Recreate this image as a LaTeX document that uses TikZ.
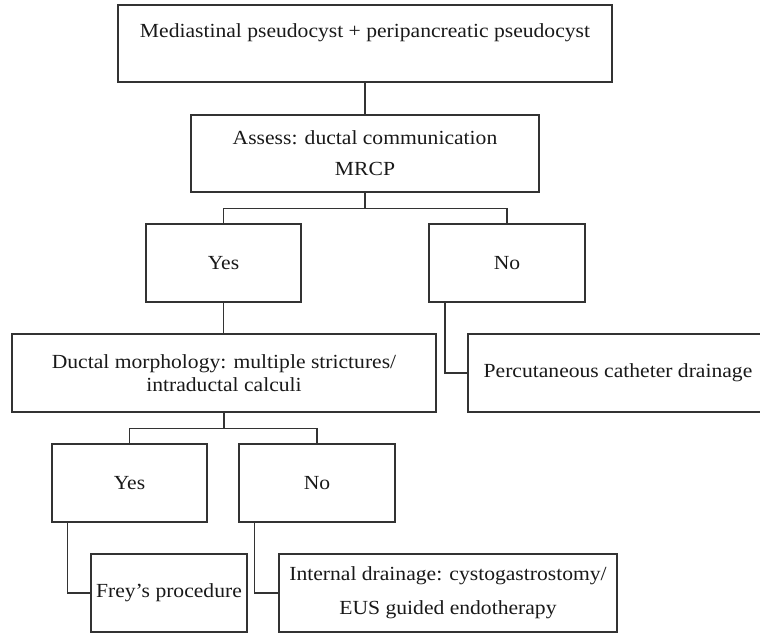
\documentclass[tikz,border=0pt]{standalone}
\usepackage{fontspec}
\setmainfont{Liberation Serif}[FakeStretch=1.08]
\usetikzlibrary{calc}
\begin{document}
\begin{tikzpicture}[x=1pt,y=-1pt,
  every node/.style={font=\fontsize{20}{24}\selectfont, text=black!90},
  box/.style={draw=black!80, line width=1.3pt, inner sep=0pt, align=center},
  conn/.style={draw=black!80, line width=1.3pt}]
\useasboundingbox (0,0) rectangle (760,633);
% top box
\node[box, minimum width=494pt, minimum height=77pt] (n1) at (365,43.5) {};
\node (t1) at (365,33) {Mediastinal pseudocyst + peripancreatic pseudocyst};
% assess
\node[box, minimum width=348pt, minimum height=77pt,
      font=\fontsize{20}{31}\selectfont] (n2) at (365,153.5)
  {Assess: ductal communication\\MRCP};
% yes / no
\node[box, minimum width=155pt, minimum height=78pt] (yes1) at (223.5,263) {Yes};
\node[box, minimum width=156pt, minimum height=78pt] (no1) at (507,263) {No};
% ductal morphology
\node[box, minimum width=424pt, minimum height=78pt,
      font=\fontsize{20}{23}\selectfont] (duct) at (224,373)
  {Ductal morphology: multiple strictures/\\intraductal calculi};
% percutaneous
\node[box, minimum width=300pt, minimum height=78pt] (perc) at (618,373)
  {Percutaneous catheter drainage};
% lower yes / no
\node[box, minimum width=155pt, minimum height=78pt] (yes2) at (129.5,483) {Yes};
\node[box, minimum width=156pt, minimum height=78pt] (no2) at (317,483) {No};
% frey
\node[box, minimum width=156pt, minimum height=78pt] (frey) at (169,593)
  {Frey’s procedure};
% internal
\node[box, minimum width=338pt, minimum height=78pt,
      font=\fontsize{20}{34}\selectfont] (int) at (448,593)
  {Internal drainage: cystogastrostomy/\\EUS guided endotherapy};
% connectors
\draw[conn] (n1.south) -- (n2.north);
\draw[conn] (n2.south) -- ++(0,16) coordinate (j1);
\draw[conn] (j1) -| (yes1.north);
\draw[conn] (j1) -| (no1.north);
\draw[conn] (yes1.south) -- (yes1.south |- duct.north);
\draw[conn] ([xshift=-62pt]no1.south) |- (perc.west);
\draw[conn] (duct.south) -- ++(0,16) coordinate (j2);
\draw[conn] (j2) -| (yes2.north);
\draw[conn] (j2) -| (no2.north);
\draw[conn] ([xshift=16pt]yes2.south west) |- (frey.west);
\draw[conn] ([xshift=16pt]no2.south west) |- (int.west);
\end{tikzpicture}
\end{document}
